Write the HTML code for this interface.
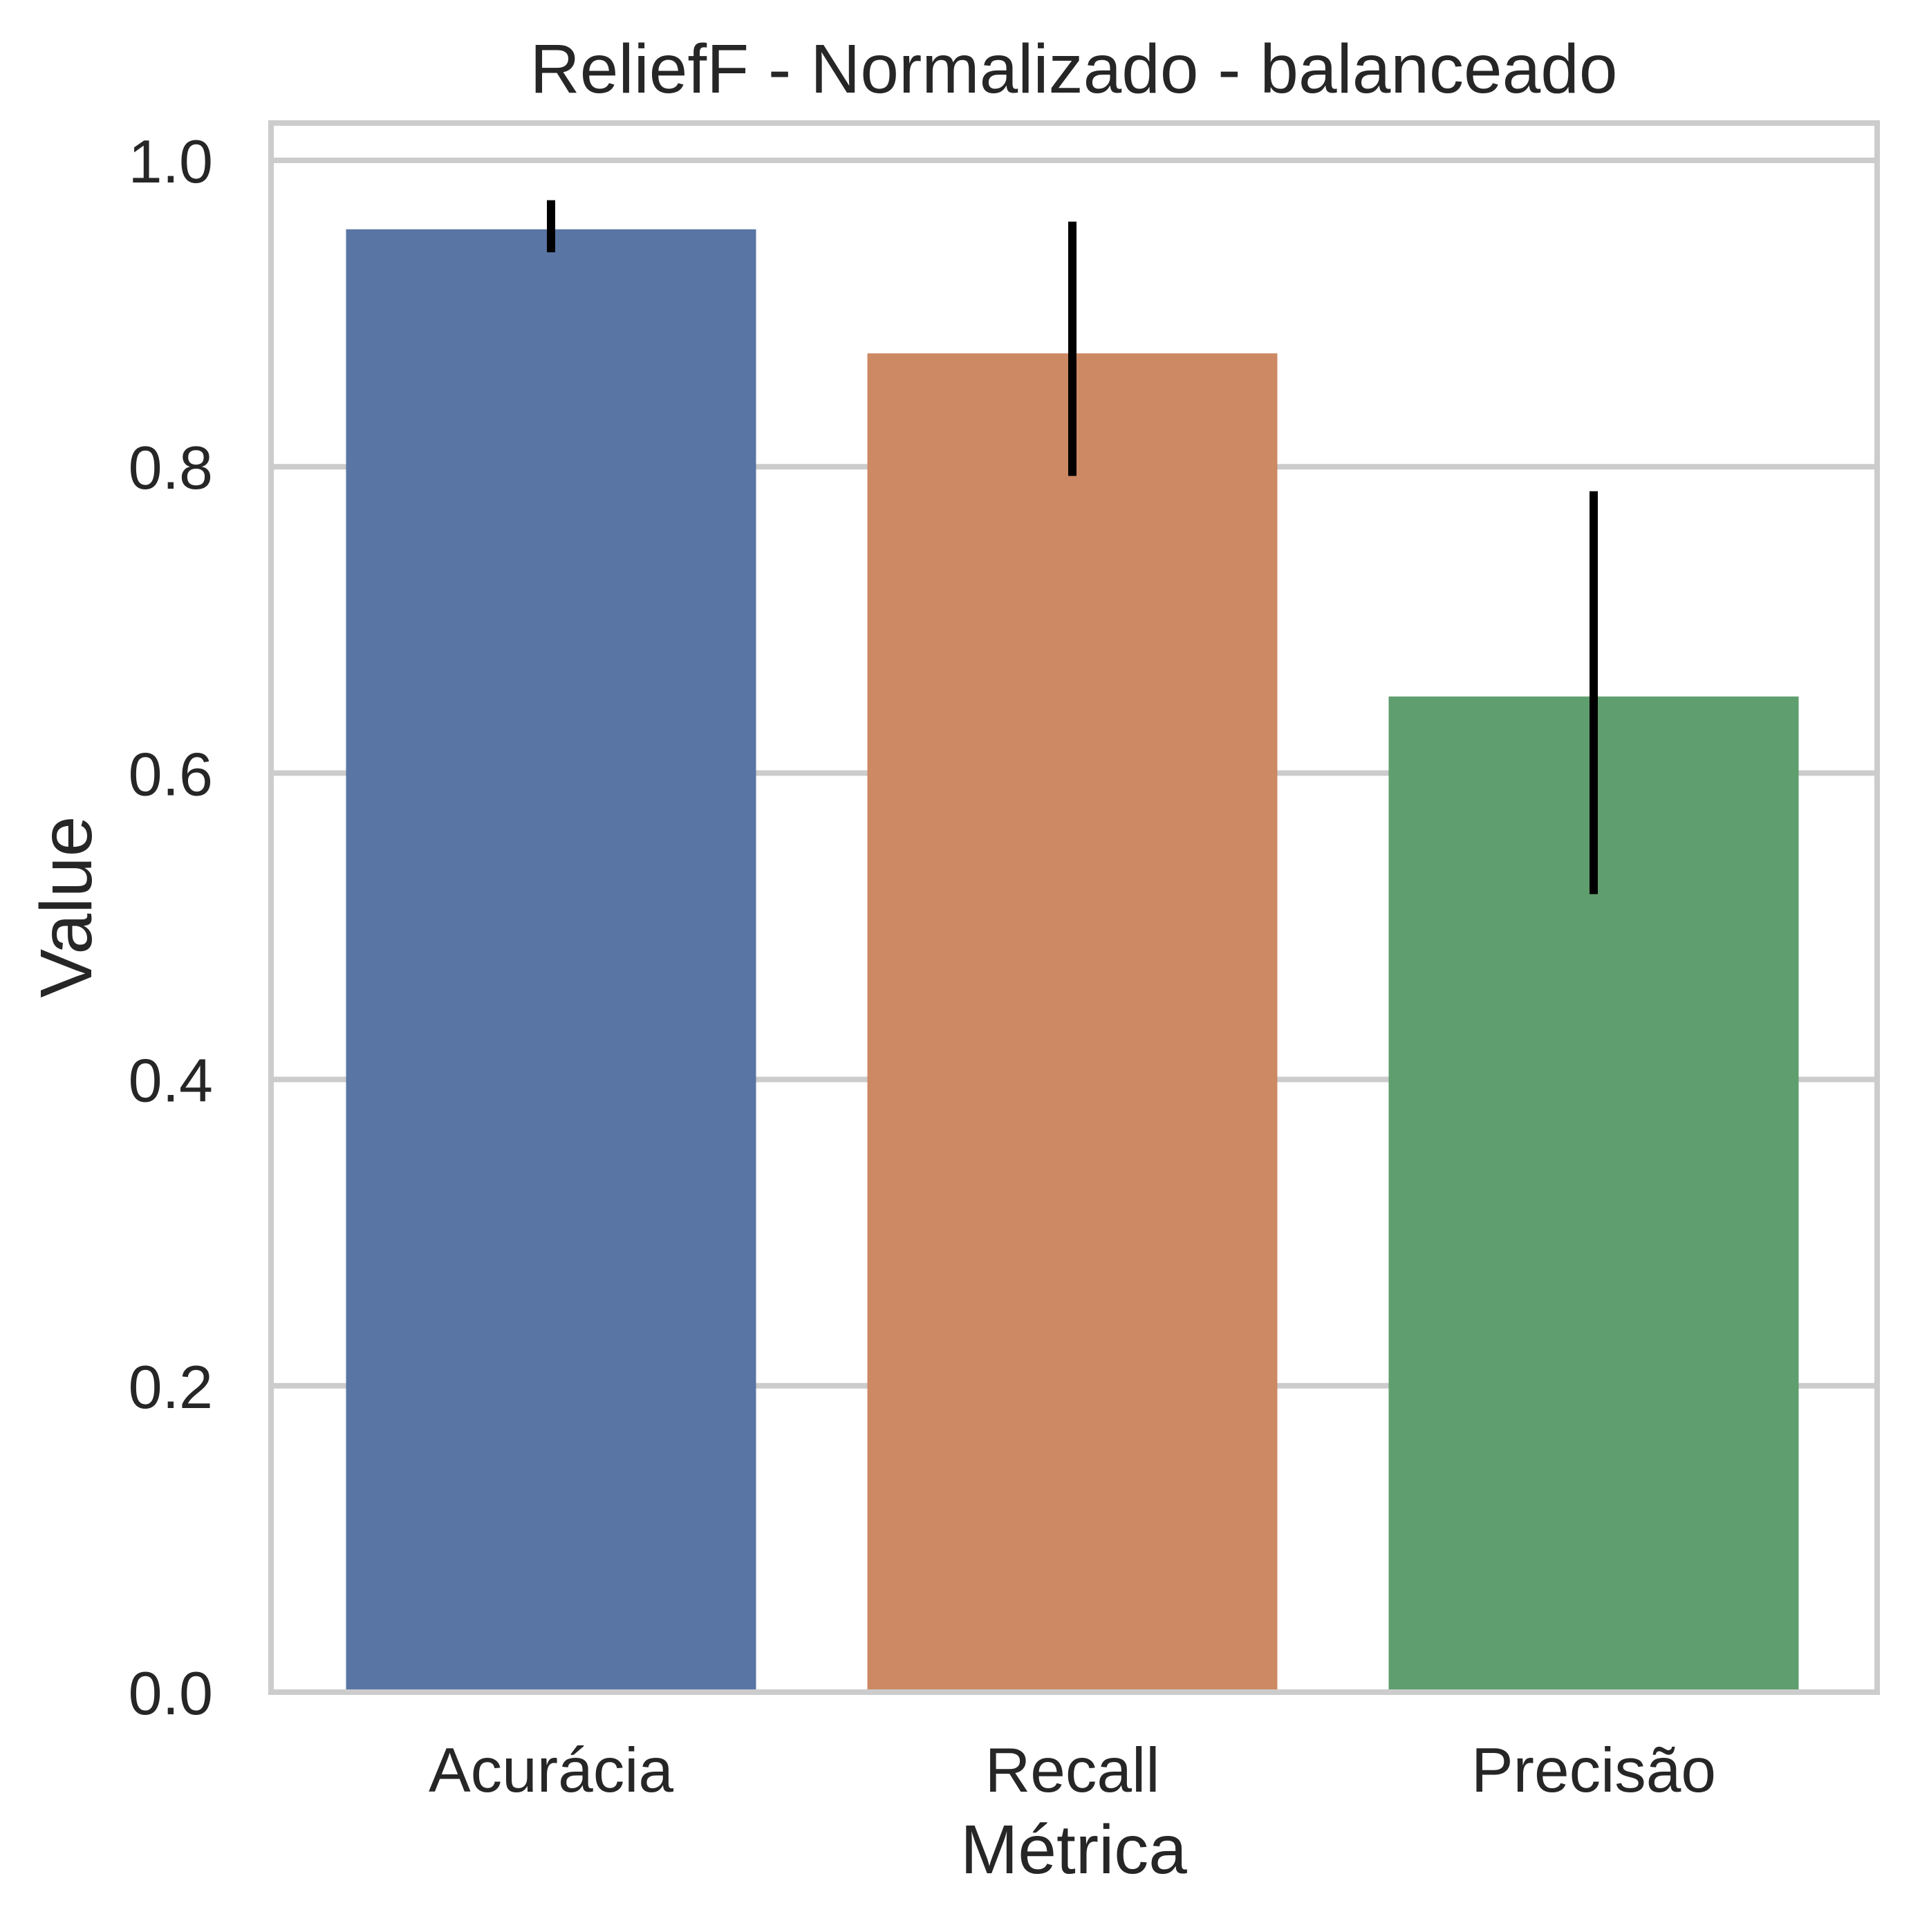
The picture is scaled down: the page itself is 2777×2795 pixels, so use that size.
<!DOCTYPE html>
<html><head><meta charset="utf-8"><style>
html,body{margin:0;padding:0;background:#fff;}
svg{display:block;font-family:"Liberation Sans",Arial,sans-serif;}
</style></head><body>
<svg id="chart" width="2777" height="2795" viewBox="0 0 2777 2795" xmlns="http://www.w3.org/2000/svg">
<rect width="2777" height="2795" fill="#fff"/>
<g id="grid"></g>
<g id="bars"></g>
<g id="errs"></g>
<rect x="392" y="178" width="2323" height="2270" fill="none" stroke="#cccccc" stroke-width="8"/>
<g id="yticks" font-size="88" fill="#262626" text-anchor="end"></g>
<g id="xticks" font-size="91" fill="#262626" text-anchor="middle"></g>
<text x="1553" y="134" font-size="100" fill="#262626" text-anchor="middle">ReliefF - Normalizado - balanceado</text>
<text x="1553" y="2710" font-size="100" fill="#262626" text-anchor="middle">Métrica</text>
<text x="0" y="0" font-size="106" fill="#262626" text-anchor="middle" transform="translate(132,1312) rotate(-90)">Value</text>
</svg>
<script>
const categories = ["Acurácia", "Recall", "Precisão"];
const values = [0.955, 0.874, 0.650];
const errLow = [0.940, 0.794, 0.521];
const errHigh = [0.974, 0.960, 0.784];
const yTicks = [0.0, 0.2, 0.4, 0.6, 0.8, 1.0];
const colors = ["#5975a4", "#cc8963", "#5f9e6e"];

const NS = "http://www.w3.org/2000/svg";
const x0 = 392, x1 = 2715, yPix0 = 2448, yPix1 = 232;
function yScale(v){ return yPix0 - v * (yPix0 - yPix1); }
const step = 754, firstCenter = 797;
function xCenter(i){ return firstCenter + step * i; }
const barW = 593;

const grid = document.getElementById('grid');
const yt = document.getElementById('yticks');
yTicks.forEach(t => {
  const l = document.createElementNS(NS, 'line');
  l.setAttribute('x1', x0); l.setAttribute('x2', x1);
  l.setAttribute('y1', yScale(t)); l.setAttribute('y2', yScale(t));
  l.setAttribute('stroke', '#cccccc'); l.setAttribute('stroke-width', '8');
  
  
  grid.appendChild(l);
  const tx = document.createElementNS(NS, 'text');
  tx.setAttribute('x', 308); tx.setAttribute('y', yScale(t) + 32);
  tx.textContent = t.toFixed(1);
  
  
  yt.appendChild(tx);
});
const bars = document.getElementById('bars');
const errs = document.getElementById('errs');
const xt = document.getElementById('xticks');
categories.forEach((c, i) => {
  const r = document.createElementNS(NS, 'rect');
  r.setAttribute('x', xCenter(i) - barW / 2);
  r.setAttribute('y', yScale(values[i]));
  r.setAttribute('width', barW);
  r.setAttribute('height', yScale(0) - yScale(values[i]));
  r.setAttribute('fill', colors[i]);
  
  
  bars.appendChild(r);
  const e = document.createElementNS(NS, 'line');
  e.setAttribute('x1', xCenter(i)); e.setAttribute('x2', xCenter(i));
  e.setAttribute('y1', yScale(errLow[i])); e.setAttribute('y2', yScale(errHigh[i]));
  e.setAttribute('stroke', '#000'); e.setAttribute('stroke-width', '12');
  
  
  errs.appendChild(e);
  const tx = document.createElementNS(NS, 'text');
  tx.setAttribute('x', xCenter(i)); tx.setAttribute('y', 2592);
  tx.textContent = c;
  
  
  xt.appendChild(tx);
});
</script>
</body></html>
